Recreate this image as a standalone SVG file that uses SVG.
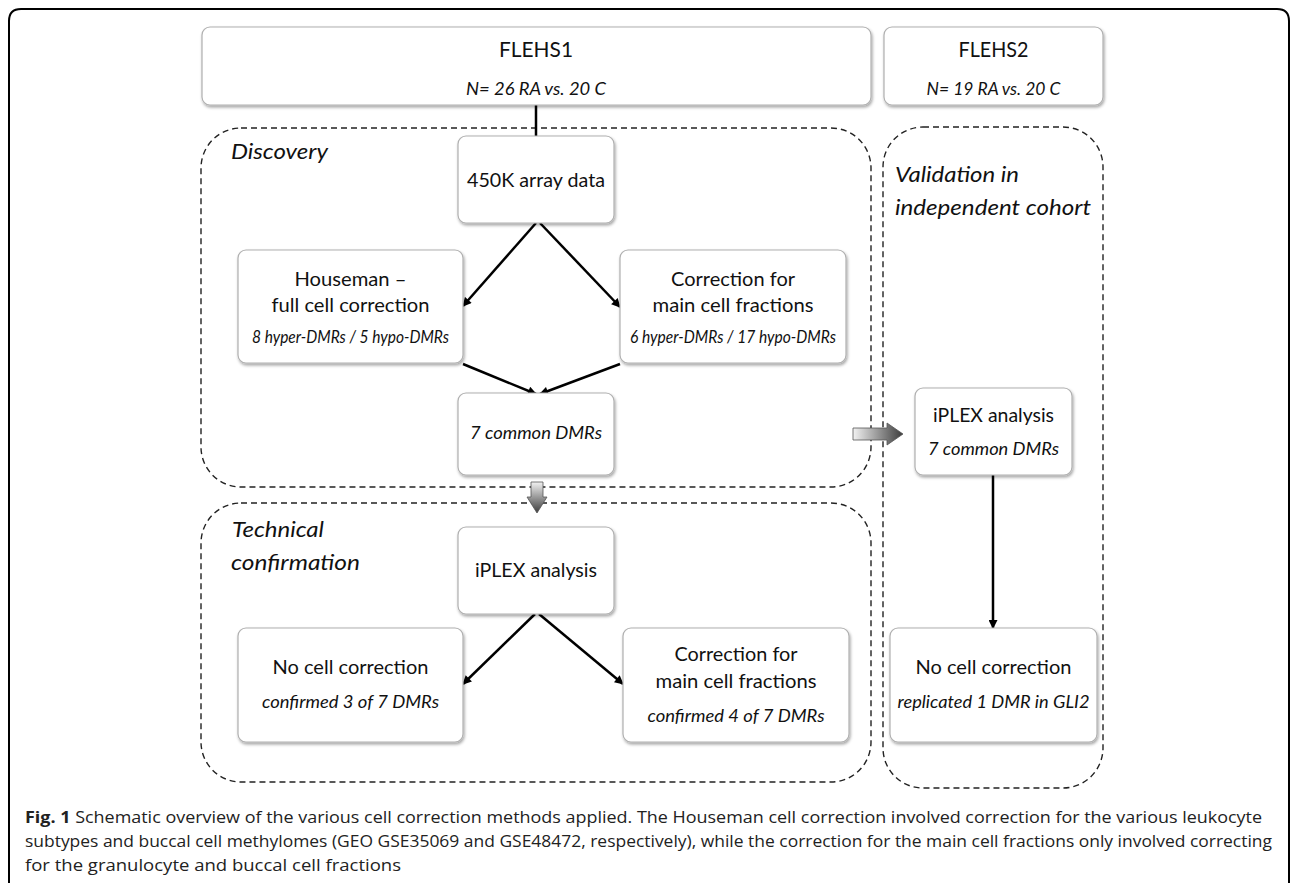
<svg xmlns="http://www.w3.org/2000/svg" width="1290" height="883" viewBox="0 0 1290 883">
<defs>
<filter id="sh" x="-10%" y="-10%" width="120%" height="130%">
<feDropShadow dx="1" dy="2" stdDeviation="1.5" flood-color="#000" flood-opacity="0.35"/>
</filter>
<linearGradient id="gv" x1="0" y1="0" x2="0" y2="1">
<stop offset="0" stop-color="#f2f2f2"/><stop offset="1" stop-color="#3c3c3c"/>
</linearGradient>
<linearGradient id="gh" x1="0" y1="0" x2="1" y2="0">
<stop offset="0" stop-color="#f2f2f2"/><stop offset="1" stop-color="#3c3c3c"/>
</linearGradient>
<marker id="ah" viewBox="0 0 10 10" refX="9" refY="5" markerUnits="userSpaceOnUse" markerWidth="10" markerHeight="9" orient="auto">
<path d="M0,0 L10,5 L0,10 z" fill="#000"/>
</marker>
<style>
.box{fill:#fff;stroke:#b0b0b0;stroke-width:1.2;filter:url(#sh)}
.t{font-family:Lato,"Liberation Sans",sans-serif;font-size:20px;fill:#111;text-anchor:middle}
.h{font-size:22px}
.i{font-style:italic;font-size:17px}
.region{fill:none;stroke:#222;stroke-width:1.4;stroke-dasharray:6 4}
.lbl{font-family:Lato,"Liberation Sans",sans-serif;font-style:italic;font-size:22px;fill:#111}
.conn{stroke:#000;stroke-width:2.5;fill:none}
.big{stroke:#555;stroke-width:0.8}
.cap{font-family:"Open Sans","Liberation Sans",sans-serif;font-size:16px;fill:#222}
</style>
</defs>
<rect width="1290" height="883" fill="#fff"/>
<path d="M9 883 V21 Q9 9 21 9 H1277 Q1289 9 1289 21 V883" fill="none" stroke="#000" stroke-width="2"/>

<g id="regions">
<g id="discovery">
<rect class="region" x="201" y="128" width="670" height="359" rx="40"/>
<text class="lbl" x="231" y="159" textLength="97" lengthAdjust="spacingAndGlyphs">Discovery</text>
</g>
<g id="validation">
<rect class="region" x="883" y="127" width="220" height="661" rx="40"/>
<text class="lbl" x="895" y="182" textLength="124" lengthAdjust="spacingAndGlyphs">Validation in</text>
<text class="lbl" x="895" y="215" textLength="196" lengthAdjust="spacingAndGlyphs">independent cohort</text>
</g>
<g id="technical">
<rect class="region" x="201" y="503" width="670" height="279" rx="40"/>
<text class="lbl" x="232" y="537" textLength="92" lengthAdjust="spacingAndGlyphs">Technical</text>
<text class="lbl" x="231" y="570" textLength="129" lengthAdjust="spacingAndGlyphs">confirmation</text>
</g>
</g>

<g id="connectors">
<path class="conn" d="M536 105 V136"/>
<path class="conn" d="M536 223 L463 306" marker-end="url(#ah)"/>
<path class="conn" d="M540 223 L620 307" marker-end="url(#ah)"/>
<path class="conn" d="M463 364 L536 394" marker-end="url(#ah)"/>
<path class="conn" d="M620 364 L540 394" marker-end="url(#ah)"/>
<path class="conn" d="M535 614 L463 684" marker-end="url(#ah)"/>
<path class="conn" d="M539 614 L623 684" marker-end="url(#ah)"/>
<path class="conn" d="M993 475 V628" marker-end="url(#ah)"/>
<polygon class="big" fill="url(#gv)" points="531,482 543,482 543,497 547,497 537,513 527,497 531,497"/>
<polygon class="big" fill="url(#gh)" points="853,428 887,428 887,423 903,434 887,445 887,440 853,440"/>
</g>

<g id="flehs1">
<rect class="box" x="202" y="27" width="669" height="78" rx="8"/>
<text class="t h" x="536" y="57" textLength="74" lengthAdjust="spacingAndGlyphs">FLEHS1</text>
<text class="t i" x="536" y="95" textLength="140" lengthAdjust="spacingAndGlyphs">N= 26 RA vs. 20 C</text>
</g>
<g id="flehs2">
<rect class="box" x="884" y="27" width="219" height="78" rx="8"/>
<text class="t h" x="993.5" y="57" textLength="70" lengthAdjust="spacingAndGlyphs">FLEHS2</text>
<text class="t i" x="993.5" y="95" textLength="134" lengthAdjust="spacingAndGlyphs">N= 19 RA vs. 20 C</text>
</g>
<g id="array450k">
<rect class="box" x="458" y="136" width="156" height="87" rx="8"/>
<text class="t" x="536" y="187" textLength="138" lengthAdjust="spacingAndGlyphs">450K array data</text>
</g>
<g id="houseman">
<rect class="box" x="238" y="250" width="225" height="113" rx="8"/>
<text class="t" x="350.5" y="286" textLength="112" lengthAdjust="spacingAndGlyphs">Houseman –</text>
<text class="t" x="350.5" y="312" textLength="158" lengthAdjust="spacingAndGlyphs">full cell correction</text>
<text class="t i" x="350.5" y="343" textLength="197" lengthAdjust="spacingAndGlyphs">8 hyper-DMRs / 5 hypo-DMRs</text>
</g>
<g id="maincorr1">
<rect class="box" x="620" y="250" width="226" height="113" rx="8"/>
<text class="t" x="733" y="286" textLength="124" lengthAdjust="spacingAndGlyphs">Correction for</text>
<text class="t" x="733" y="312" textLength="161" lengthAdjust="spacingAndGlyphs">main cell fractions</text>
<text class="t i" x="733" y="343" textLength="206" lengthAdjust="spacingAndGlyphs">6 hyper-DMRs / 17 hypo-DMRs</text>
</g>
<g id="common7">
<rect class="box" x="458" y="393" width="156" height="82" rx="8"/>
<text class="t i" x="536" y="439" style="font-size:18px" textLength="132" lengthAdjust="spacingAndGlyphs">7 common DMRs</text>
</g>
<g id="val-iplex">
<rect class="box" x="915" y="388" width="157" height="87" rx="8"/>
<text class="t" x="993.5" y="422" textLength="121" lengthAdjust="spacingAndGlyphs">iPLEX analysis</text>
<text class="t i" x="993.5" y="455" textLength="131" lengthAdjust="spacingAndGlyphs">7 common DMRs</text>
</g>
<g id="val-nocell">
<rect class="box" x="890" y="628" width="207" height="114" rx="8"/>
<text class="t" x="993.5" y="674" textLength="156" lengthAdjust="spacingAndGlyphs">No cell correction</text>
<text class="t i" x="993.5" y="708" textLength="192" lengthAdjust="spacingAndGlyphs">replicated 1 DMR in GLI2</text>
</g>
<g id="tech-iplex">
<rect class="box" x="458" y="527" width="156" height="87" rx="8"/>
<text class="t" x="536" y="577" textLength="122" lengthAdjust="spacingAndGlyphs">iPLEX analysis</text>
</g>
<g id="tech-nocell">
<rect class="box" x="238" y="628" width="225" height="114" rx="8"/>
<text class="t" x="350.5" y="674" textLength="156" lengthAdjust="spacingAndGlyphs">No cell correction</text>
<text class="t i" x="350.5" y="708" textLength="177" lengthAdjust="spacingAndGlyphs">confirmed 3 of 7 DMRs</text>
</g>
<g id="tech-maincorr">
<rect class="box" x="623" y="628" width="226" height="114" rx="8"/>
<text class="t" x="736" y="661" textLength="123" lengthAdjust="spacingAndGlyphs">Correction for</text>
<text class="t" x="736" y="688" textLength="161" lengthAdjust="spacingAndGlyphs">main cell fractions</text>
<text class="t i" x="736" y="722" textLength="177" lengthAdjust="spacingAndGlyphs">confirmed 4 of 7 DMRs</text>
</g>

<g id="caption">
<text class="cap" x="25" y="823" textLength="1237" lengthAdjust="spacingAndGlyphs"><tspan font-weight="bold">Fig. 1</tspan> Schematic overview of the various cell correction methods applied. The Houseman cell correction involved correction for the various leukocyte</text>
<text class="cap" x="25" y="847" textLength="1247" lengthAdjust="spacingAndGlyphs">subtypes and buccal cell methylomes (GEO GSE35069 and GSE48472, respectively), while the correction for the main cell fractions only involved correcting</text>
<text class="cap" x="25" y="871" textLength="376" lengthAdjust="spacingAndGlyphs">for the granulocyte and buccal cell fractions</text>
</g>
</svg>
